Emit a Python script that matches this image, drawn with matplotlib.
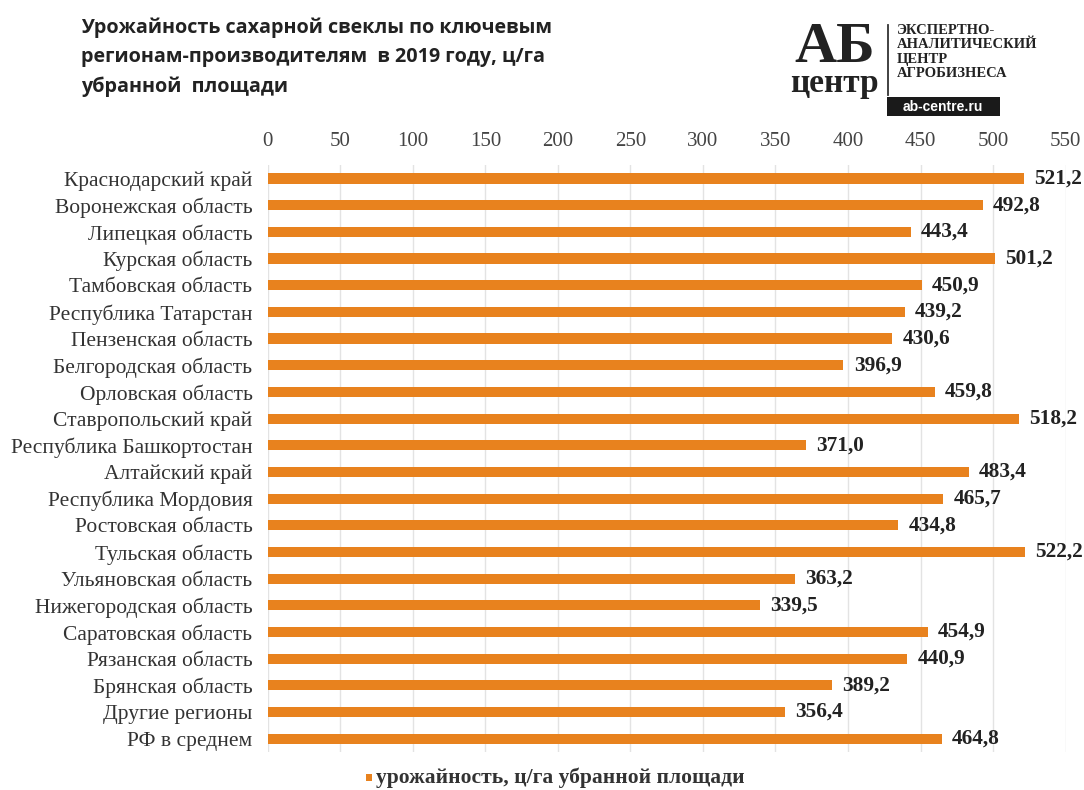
import matplotlib
matplotlib.use("Agg")
import matplotlib.pyplot as plt
from matplotlib.patches import Rectangle

regions = ["Краснодарский край", "Воронежская область", "Липецкая область", "Курская область",
           "Тамбовская область", "Республика Татарстан", "Пензенская область", "Белгородская область",
           "Орловская область", "Ставропольский край", "Республика Башкортостан", "Алтайский край",
           "Республика Мордовия", "Ростовская область", "Тульская область", "Ульяновская область",
           "Нижегородская область", "Саратовская область", "Рязанская область", "Брянская область",
           "Другие регионы", "РФ в среднем"]
values = [521.2, 492.8, 443.4, 501.2, 450.9, 439.2, 430.6, 396.9, 459.8, 518.2, 371.0, 483.4,
          465.7, 434.8, 522.2, 363.2, 339.5, 454.9, 440.9, 389.2, 356.4, 464.8]
ticks = list(range(0, 551, 50))

orange = "#E8821E"
serif = "Liberation Serif"

fig = plt.figure(figsize=(10.84, 7.9), dpi=100)
ax = fig.add_axes([0.247, 0.048, 0.736, 0.743])

y = list(range(len(regions)))
ax.barh(y, values, height=0.38, color=orange, zorder=3)
ax.set_ylim(len(regions) - 0.5, -0.5)
ax.set_xlim(0, 550)
ax.set_xticks(ticks)
ax.xaxis.tick_top()
ax.set_xticklabels([str(t) for t in ticks], fontfamily=serif, fontsize=15, color="#444444")
ax.tick_params(axis="x", length=0, pad=10)
ax.set_yticks(y)
ax.set_yticklabels(regions, fontfamily=serif, fontsize=15.5, color="#333333")
ax.tick_params(axis="y", length=0, pad=11)
ax.grid(axis="x", color="#E3E3E3", linewidth=1, zorder=0)
for s in ax.spines.values():
    s.set_visible(False)

for yi, v in zip(y, values):
    ax.text(v + 7, yi, f"{v:.1f}".replace(".", ","), va="center", ha="left",
            fontfamily=serif, fontweight="bold", fontsize=15.3, color="#222222", zorder=4)

# Title
fig.text(0.075, 0.978, "Урожайность сахарной свеклы по ключевым\nрегионам-производителям  в 2019 году, ц/га\nубранной  площади",
         ha="left", va="top", fontsize=14.2, fontweight="bold", fontfamily="Open Sans",
         color="#222222", linespacing=1.6)

# Logo
fig.text(0.770, 0.921, "АБ", fontsize=42, fontweight="bold", fontfamily=serif, color="#222222",
         ha="center", va="baseline")
fig.text(0.770, 0.884, "центр", fontsize=24, fontweight="bold", fontfamily=serif, color="#222222",
         ha="center", va="baseline")
fig.add_artist(plt.Line2D([0.819, 0.819], [0.880, 0.968], color="#333333", linewidth=1.3,
                          transform=fig.transFigure))
for i, line in enumerate(["ЭКСПЕРТНО-", "АНАЛИТИЧЕСКИЙ", "ЦЕНТР", "АГРОБИЗНЕСА"]):
    fig.text(0.8275, 0.962 - i * 0.0185, line, fontsize=10.5, fontweight="bold", fontfamily=serif,
             color="#222222", ha="left", va="center")
fig.add_artist(Rectangle((0.818, 0.853), 0.1045, 0.024, transform=fig.transFigure,
                         facecolor="#1a1a1a", edgecolor="none"))
fig.text(0.870, 0.865, "ab-centre.ru", fontsize=10, fontfamily="Liberation Sans", color="white",
         ha="center", va="center", fontweight="bold")

# Legend
fig.add_artist(Rectangle((0.3375, 0.0115), 0.006, 0.009, transform=fig.transFigure,
                         facecolor=orange, edgecolor="none"))
fig.text(0.347, 0.016, "урожайность, ц/га убранной площади", fontsize=15.5, fontweight="bold",
         fontfamily=serif, color="#333333", ha="left", va="center")

fig.savefig("out.png", dpi=100, facecolor="white")
